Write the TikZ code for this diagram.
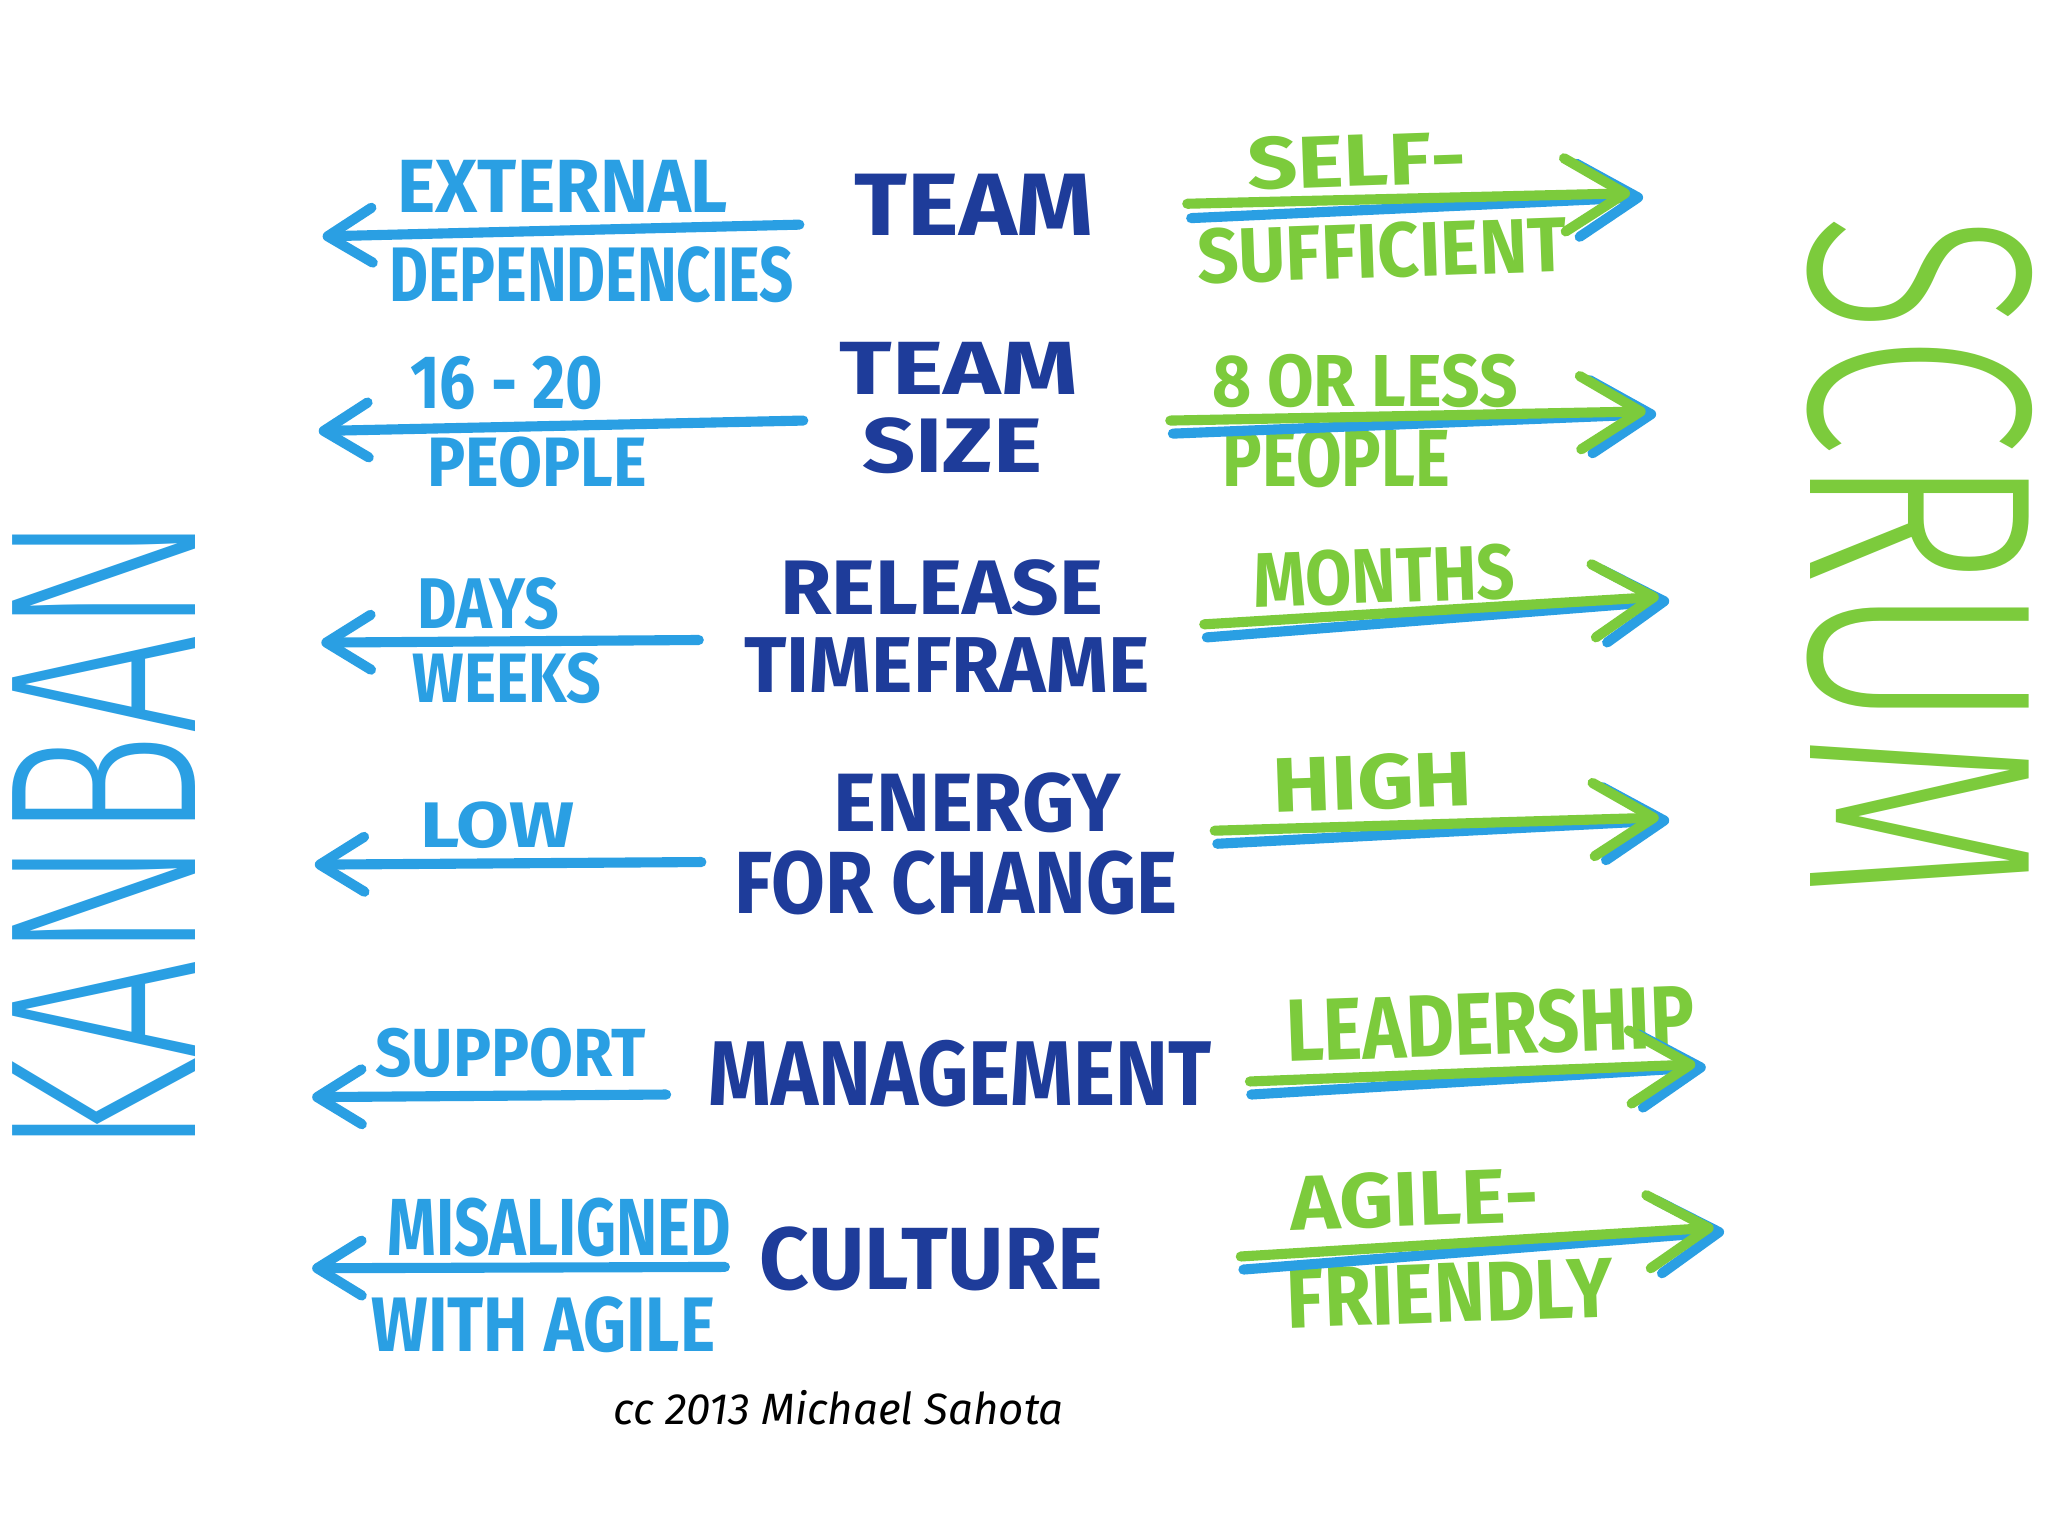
\documentclass[tikz,border=0pt]{standalone}
\usepackage{fontspec}
\setmainfont{Fira Sans}
\newfontfamily\thinf{Fira Sans Light}
\usetikzlibrary{arrows.meta}
\newlength\pxu \setlength\pxu{0.01cm}
\newcommand\fitb[3]{\resizebox{#1\pxu}{#2\pxu}{\bfseries #3}}
\newcommand\fitl[3]{\resizebox{#1\pxu}{#2\pxu}{\thinf #3}}
\definecolor{navy}{HTML}{1E3C9A}
\definecolor{lblue}{HTML}{2A9FE3}
\definecolor{mgreen}{HTML}{7CCB3C}
\begin{document}
\begin{tikzpicture}[x=0.01cm,y=-0.01cm,
  txt/.style={inner sep=0pt, anchor=center},
  mid/.style={txt, text=navy},
  lft/.style={txt, text=lblue},
  rgt/.style={txt, text=mgreen},
  larrow/.style={lblue, line width=2.2pt, line cap=round, -{Straight Barb[length=3.4mm,width=4.2mm,round]}},
  rblue/.style={lblue, line width=2.2pt, line cap=round, -{Straight Barb[length=4.6mm,width=5.6mm,round]}},
  rgreen/.style={mgreen, line width=2.2pt, line cap=round, -{Straight Barb[length=4.6mm,width=5.6mm,round]}}]
\useasboundingbox[fill=white] (0,0) rectangle (1568,1176);

% side titles
\node[txt, text=lblue, rotate=90] (kanban) at (80,640) {\fitl{490}{140}{KANBAN}};
\node[txt, text=mgreen, rotate=-90] (scrum) at (1470,427) {\fitl{527}{170}{SCRUM}};

% row 1
\node[mid] (team) at (746,157) {\fitb{183}{47}{TEAM}};
\node[lft] (ext) at (431,143) {\fitb{253}{40}{EXTERNAL}};
\node[lft] (dep) at (453,210) {\fitb{310}{42}{DEPENDENCIES}};
\node[rgt, rotate=2] (self) at (1039,123) {\fitb{168}{40}{SELF-}};
\node[rgt, rotate=2] (suff) at (1058,192) {\fitb{283}{42}{SUFFICIENT}};
\coordinate (l1s) at (612,172); \coordinate (l1e) at (247,181);
\draw[larrow] (l1s) -- (l1e);
\coordinate (rb1s) at (912,167); \coordinate (rb1e) at (1258,151);
\coordinate (rg1s) at (909,156); \coordinate (rg1e) at (1248,148);
\draw[rblue] (rb1s) -- (rb1e);
\draw[rgreen] (rg1s) -- (rg1e);

% row 2
\node[mid] (teamb) at (734,282) {\fitb{182}{40}{TEAM}};
\node[mid] (size) at (729,341) {\fitb{138}{42}{SIZE}};
\node[lft] (num) at (388,293) {\fitb{148}{40}{16 - 20}};
\node[lft] (peo) at (411,354) {\fitb{168}{38}{PEOPLE}};
\node[rgt] (eight) at (1045,292) {\fitb{234}{40}{8 OR LESS}};
\node[rgt] (peor) at (1023,351) {\fitb{174}{44}{PEOPLE}};
\coordinate (l2s) at (615,322); \coordinate (l2e) at (244,330);
\draw[larrow] (l2s) -- (l2e);
\coordinate (rb2s) at (898,332); \coordinate (rb2e) at (1268,317);
\coordinate (rg2s) at (896,322); \coordinate (rg2e) at (1260,315);
\draw[rblue] (rb2s) -- (rb2e);
\draw[rgreen] (rg2s) -- (rg2e);

% row 3
\node[mid] (rel) at (721,450) {\fitb{247}{42}{RELEASE}};
\node[mid] (time) at (725,509) {\fitb{310}{42}{TIMEFRAME}};
\node[lft] (days) at (374,462) {\fitb{108}{39}{DAYS}};
\node[lft] (weeks) at (388,519) {\fitb{144}{38}{WEEKS}};
\node[rgt, rotate=2] (months) at (1060,441) {\fitb{200}{42}{MONTHS}};
\coordinate (l3s) at (535,490); \coordinate (l3e) at (246,492);
\draw[larrow] (l3s) -- (l3e);
\coordinate (rb3s) at (924,488); \coordinate (rb3e) at (1278,460);
\coordinate (rg3s) at (922,478); \coordinate (rg3e) at (1270,457);
\draw[rblue] (rb3s) -- (rb3e);
\draw[rgreen] (rg3s) -- (rg3e);

% row 4
\node[mid] (energy) at (748,615) {\fitb{220}{45}{ENERGY}};
\node[mid] (forch) at (732,676) {\fitb{339}{48}{FOR CHANGE}};
\node[lft] (low) at (381,632) {\fitb{118}{35}{LOW}};
\node[rgt, rotate=2] (high) at (1051,599) {\fitb{153}{42}{HIGH}};
\coordinate (l4s) at (537,660); \coordinate (l4e) at (241,662);
\draw[larrow] (l4s) -- (l4e);
\coordinate (rb4s) at (932,646); \coordinate (rb4e) at (1278,628);
\coordinate (rg4s) at (930,636); \coordinate (rg4e) at (1270,626);
\draw[rblue] (rb4s) -- (rb4e);
\draw[rgreen] (rg4s) -- (rg4e);

% row 5
\node[mid] (mgmt) at (735,822) {\fitb{385}{50}{MANAGEMENT}};
\node[lft] (supp) at (391,806) {\fitb{207}{37}{SUPPORT}};
\node[rgt, rotate=2] (lead) at (1141,784) {\fitb{313}{48}{LEADERSHIP}};
\coordinate (l5s) at (510,838); \coordinate (l5e) at (239,840);
\draw[larrow] (l5s) -- (l5e);
\coordinate (rb5s) at (958,838); \coordinate (rb5e) at (1306,817);
\coordinate (rg5s) at (957,828); \coordinate (rg5e) at (1298,815);
\draw[rblue] (rb5s) -- (rb5e);
\draw[rgreen] (rg5s) -- (rg5e);

% row 6
\node[mid] (cult) at (713,964) {\fitb{263}{48}{CULTURE}};
\node[lft] (mis) at (428,940) {\fitb{263}{44}{MISALIGNED}};
\node[lft] (with) at (416,1014) {\fitb{263}{42}{WITH AGILE}};
\node[rgt, rotate=2] (agile) at (1083,918) {\fitb{190}{42}{AGILE-}};
\node[rgt, rotate=2] (friend) at (1110,990) {\fitb{250}{45}{FRIENDLY}};
\coordinate (l6s) at (555,970); \coordinate (l6e) at (239,971);
\draw[larrow] (l6s) -- (l6e);
\coordinate (rb6s) at (952,972); \coordinate (rb6e) at (1320,943);
\coordinate (rg6s) at (950,962); \coordinate (rg6e) at (1312,940);
\draw[rblue] (rb6s) -- (rb6e);
\draw[rgreen] (rg6s) -- (rg6e);

% credit
\node[txt, text=black] (credit) at (642,1078) {\resizebox{345\pxu}{!}{\itshape cc 2013 Michael Sahota}};
\end{tikzpicture}
\end{document}
